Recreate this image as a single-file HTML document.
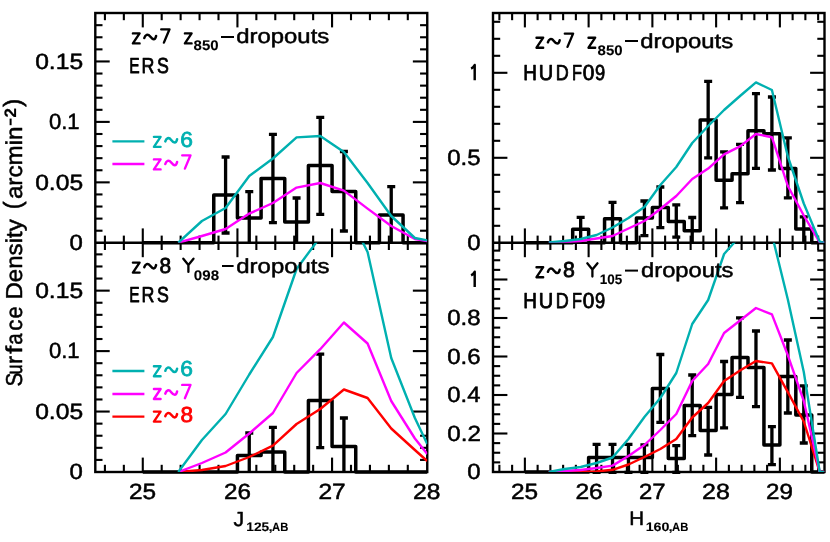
<!DOCTYPE html>
<html><head><meta charset="utf-8"><title>Surface density</title>
<style>
html,body{margin:0;padding:0;background:#fff;}
svg{display:block;will-change:transform;}
text{font-family:"Liberation Sans",sans-serif;text-rendering:geometricPrecision;}
</style></head>
<body>
<svg width="830" height="542" viewBox="0 0 830 542">
<rect x="0" y="0" width="830" height="542" fill="#fff"/>
<defs>
<clipPath id="cTL"><rect x="95.3" y="13.0" width="331.95" height="229.8"/></clipPath>
<clipPath id="cBL"><rect x="95.3" y="242.8" width="331.95" height="229.2"/></clipPath>
<clipPath id="cTR"><rect x="493.0" y="13.0" width="331.5" height="229.8"/></clipPath>
<clipPath id="cBR"><rect x="493.0" y="242.8" width="331.5" height="229.2"/></clipPath>
</defs>
<rect x="95.3" y="13.0" width="331.95" height="459.0" fill="none" stroke="#000" stroke-width="2.4"/>
<line x1="95.30" y1="242.80" x2="427.25" y2="242.80" stroke="#000" stroke-width="2.4" stroke-linecap="butt"/>
<line x1="104.92" y1="13.00" x2="104.92" y2="20.20" stroke="#000" stroke-width="2.1" stroke-linecap="butt"/>
<line x1="123.85" y1="13.00" x2="123.85" y2="20.20" stroke="#000" stroke-width="2.1" stroke-linecap="butt"/>
<line x1="142.78" y1="13.00" x2="142.78" y2="27.40" stroke="#000" stroke-width="2.1" stroke-linecap="butt"/>
<line x1="161.70" y1="13.00" x2="161.70" y2="20.20" stroke="#000" stroke-width="2.1" stroke-linecap="butt"/>
<line x1="180.63" y1="13.00" x2="180.63" y2="20.20" stroke="#000" stroke-width="2.1" stroke-linecap="butt"/>
<line x1="199.57" y1="13.00" x2="199.57" y2="20.20" stroke="#000" stroke-width="2.1" stroke-linecap="butt"/>
<line x1="218.50" y1="13.00" x2="218.50" y2="20.20" stroke="#000" stroke-width="2.1" stroke-linecap="butt"/>
<line x1="237.43" y1="13.00" x2="237.43" y2="27.40" stroke="#000" stroke-width="2.1" stroke-linecap="butt"/>
<line x1="256.35" y1="13.00" x2="256.35" y2="20.20" stroke="#000" stroke-width="2.1" stroke-linecap="butt"/>
<line x1="275.28" y1="13.00" x2="275.28" y2="20.20" stroke="#000" stroke-width="2.1" stroke-linecap="butt"/>
<line x1="294.22" y1="13.00" x2="294.22" y2="20.20" stroke="#000" stroke-width="2.1" stroke-linecap="butt"/>
<line x1="313.15" y1="13.00" x2="313.15" y2="20.20" stroke="#000" stroke-width="2.1" stroke-linecap="butt"/>
<line x1="332.07" y1="13.00" x2="332.07" y2="27.40" stroke="#000" stroke-width="2.1" stroke-linecap="butt"/>
<line x1="351.00" y1="13.00" x2="351.00" y2="20.20" stroke="#000" stroke-width="2.1" stroke-linecap="butt"/>
<line x1="369.93" y1="13.00" x2="369.93" y2="20.20" stroke="#000" stroke-width="2.1" stroke-linecap="butt"/>
<line x1="388.87" y1="13.00" x2="388.87" y2="20.20" stroke="#000" stroke-width="2.1" stroke-linecap="butt"/>
<line x1="407.80" y1="13.00" x2="407.80" y2="20.20" stroke="#000" stroke-width="2.1" stroke-linecap="butt"/>
<line x1="104.92" y1="235.60" x2="104.92" y2="250.00" stroke="#000" stroke-width="2.1" stroke-linecap="butt"/>
<line x1="123.85" y1="235.60" x2="123.85" y2="250.00" stroke="#000" stroke-width="2.1" stroke-linecap="butt"/>
<line x1="142.78" y1="228.40" x2="142.78" y2="257.20" stroke="#000" stroke-width="2.1" stroke-linecap="butt"/>
<line x1="161.70" y1="235.60" x2="161.70" y2="250.00" stroke="#000" stroke-width="2.1" stroke-linecap="butt"/>
<line x1="180.63" y1="235.60" x2="180.63" y2="250.00" stroke="#000" stroke-width="2.1" stroke-linecap="butt"/>
<line x1="199.57" y1="235.60" x2="199.57" y2="250.00" stroke="#000" stroke-width="2.1" stroke-linecap="butt"/>
<line x1="218.50" y1="235.60" x2="218.50" y2="250.00" stroke="#000" stroke-width="2.1" stroke-linecap="butt"/>
<line x1="237.43" y1="228.40" x2="237.43" y2="257.20" stroke="#000" stroke-width="2.1" stroke-linecap="butt"/>
<line x1="256.35" y1="235.60" x2="256.35" y2="250.00" stroke="#000" stroke-width="2.1" stroke-linecap="butt"/>
<line x1="275.28" y1="235.60" x2="275.28" y2="250.00" stroke="#000" stroke-width="2.1" stroke-linecap="butt"/>
<line x1="294.22" y1="235.60" x2="294.22" y2="250.00" stroke="#000" stroke-width="2.1" stroke-linecap="butt"/>
<line x1="313.15" y1="235.60" x2="313.15" y2="250.00" stroke="#000" stroke-width="2.1" stroke-linecap="butt"/>
<line x1="332.07" y1="228.40" x2="332.07" y2="257.20" stroke="#000" stroke-width="2.1" stroke-linecap="butt"/>
<line x1="351.00" y1="235.60" x2="351.00" y2="250.00" stroke="#000" stroke-width="2.1" stroke-linecap="butt"/>
<line x1="369.93" y1="235.60" x2="369.93" y2="250.00" stroke="#000" stroke-width="2.1" stroke-linecap="butt"/>
<line x1="388.87" y1="235.60" x2="388.87" y2="250.00" stroke="#000" stroke-width="2.1" stroke-linecap="butt"/>
<line x1="407.80" y1="235.60" x2="407.80" y2="250.00" stroke="#000" stroke-width="2.1" stroke-linecap="butt"/>
<line x1="104.92" y1="464.80" x2="104.92" y2="472.00" stroke="#000" stroke-width="2.1" stroke-linecap="butt"/>
<line x1="123.85" y1="464.80" x2="123.85" y2="472.00" stroke="#000" stroke-width="2.1" stroke-linecap="butt"/>
<line x1="142.78" y1="457.60" x2="142.78" y2="472.00" stroke="#000" stroke-width="2.1" stroke-linecap="butt"/>
<line x1="161.70" y1="464.80" x2="161.70" y2="472.00" stroke="#000" stroke-width="2.1" stroke-linecap="butt"/>
<line x1="180.63" y1="464.80" x2="180.63" y2="472.00" stroke="#000" stroke-width="2.1" stroke-linecap="butt"/>
<line x1="199.57" y1="464.80" x2="199.57" y2="472.00" stroke="#000" stroke-width="2.1" stroke-linecap="butt"/>
<line x1="218.50" y1="464.80" x2="218.50" y2="472.00" stroke="#000" stroke-width="2.1" stroke-linecap="butt"/>
<line x1="237.43" y1="457.60" x2="237.43" y2="472.00" stroke="#000" stroke-width="2.1" stroke-linecap="butt"/>
<line x1="256.35" y1="464.80" x2="256.35" y2="472.00" stroke="#000" stroke-width="2.1" stroke-linecap="butt"/>
<line x1="275.28" y1="464.80" x2="275.28" y2="472.00" stroke="#000" stroke-width="2.1" stroke-linecap="butt"/>
<line x1="294.22" y1="464.80" x2="294.22" y2="472.00" stroke="#000" stroke-width="2.1" stroke-linecap="butt"/>
<line x1="313.15" y1="464.80" x2="313.15" y2="472.00" stroke="#000" stroke-width="2.1" stroke-linecap="butt"/>
<line x1="332.07" y1="457.60" x2="332.07" y2="472.00" stroke="#000" stroke-width="2.1" stroke-linecap="butt"/>
<line x1="351.00" y1="464.80" x2="351.00" y2="472.00" stroke="#000" stroke-width="2.1" stroke-linecap="butt"/>
<line x1="369.93" y1="464.80" x2="369.93" y2="472.00" stroke="#000" stroke-width="2.1" stroke-linecap="butt"/>
<line x1="388.87" y1="464.80" x2="388.87" y2="472.00" stroke="#000" stroke-width="2.1" stroke-linecap="butt"/>
<line x1="407.80" y1="464.80" x2="407.80" y2="472.00" stroke="#000" stroke-width="2.1" stroke-linecap="butt"/>
<rect x="493.0" y="13.0" width="331.5" height="459.0" fill="none" stroke="#000" stroke-width="2.4"/>
<line x1="493.00" y1="242.80" x2="824.50" y2="242.80" stroke="#000" stroke-width="2.4" stroke-linecap="butt"/>
<line x1="499.38" y1="13.00" x2="499.38" y2="20.20" stroke="#000" stroke-width="2.1" stroke-linecap="butt"/>
<line x1="512.12" y1="13.00" x2="512.12" y2="20.20" stroke="#000" stroke-width="2.1" stroke-linecap="butt"/>
<line x1="524.88" y1="13.00" x2="524.88" y2="27.40" stroke="#000" stroke-width="2.1" stroke-linecap="butt"/>
<line x1="537.62" y1="13.00" x2="537.62" y2="20.20" stroke="#000" stroke-width="2.1" stroke-linecap="butt"/>
<line x1="550.37" y1="13.00" x2="550.37" y2="20.20" stroke="#000" stroke-width="2.1" stroke-linecap="butt"/>
<line x1="563.13" y1="13.00" x2="563.13" y2="20.20" stroke="#000" stroke-width="2.1" stroke-linecap="butt"/>
<line x1="575.88" y1="13.00" x2="575.88" y2="20.20" stroke="#000" stroke-width="2.1" stroke-linecap="butt"/>
<line x1="588.62" y1="13.00" x2="588.62" y2="27.40" stroke="#000" stroke-width="2.1" stroke-linecap="butt"/>
<line x1="601.38" y1="13.00" x2="601.38" y2="20.20" stroke="#000" stroke-width="2.1" stroke-linecap="butt"/>
<line x1="614.12" y1="13.00" x2="614.12" y2="20.20" stroke="#000" stroke-width="2.1" stroke-linecap="butt"/>
<line x1="626.88" y1="13.00" x2="626.88" y2="20.20" stroke="#000" stroke-width="2.1" stroke-linecap="butt"/>
<line x1="639.62" y1="13.00" x2="639.62" y2="20.20" stroke="#000" stroke-width="2.1" stroke-linecap="butt"/>
<line x1="652.38" y1="13.00" x2="652.38" y2="27.40" stroke="#000" stroke-width="2.1" stroke-linecap="butt"/>
<line x1="665.12" y1="13.00" x2="665.12" y2="20.20" stroke="#000" stroke-width="2.1" stroke-linecap="butt"/>
<line x1="677.87" y1="13.00" x2="677.87" y2="20.20" stroke="#000" stroke-width="2.1" stroke-linecap="butt"/>
<line x1="690.63" y1="13.00" x2="690.63" y2="20.20" stroke="#000" stroke-width="2.1" stroke-linecap="butt"/>
<line x1="703.38" y1="13.00" x2="703.38" y2="20.20" stroke="#000" stroke-width="2.1" stroke-linecap="butt"/>
<line x1="716.12" y1="13.00" x2="716.12" y2="27.40" stroke="#000" stroke-width="2.1" stroke-linecap="butt"/>
<line x1="728.88" y1="13.00" x2="728.88" y2="20.20" stroke="#000" stroke-width="2.1" stroke-linecap="butt"/>
<line x1="741.62" y1="13.00" x2="741.62" y2="20.20" stroke="#000" stroke-width="2.1" stroke-linecap="butt"/>
<line x1="754.38" y1="13.00" x2="754.38" y2="20.20" stroke="#000" stroke-width="2.1" stroke-linecap="butt"/>
<line x1="767.12" y1="13.00" x2="767.12" y2="20.20" stroke="#000" stroke-width="2.1" stroke-linecap="butt"/>
<line x1="779.88" y1="13.00" x2="779.88" y2="27.40" stroke="#000" stroke-width="2.1" stroke-linecap="butt"/>
<line x1="792.62" y1="13.00" x2="792.62" y2="20.20" stroke="#000" stroke-width="2.1" stroke-linecap="butt"/>
<line x1="805.37" y1="13.00" x2="805.37" y2="20.20" stroke="#000" stroke-width="2.1" stroke-linecap="butt"/>
<line x1="818.13" y1="13.00" x2="818.13" y2="20.20" stroke="#000" stroke-width="2.1" stroke-linecap="butt"/>
<line x1="499.38" y1="235.60" x2="499.38" y2="250.00" stroke="#000" stroke-width="2.1" stroke-linecap="butt"/>
<line x1="512.12" y1="235.60" x2="512.12" y2="250.00" stroke="#000" stroke-width="2.1" stroke-linecap="butt"/>
<line x1="524.88" y1="228.40" x2="524.88" y2="257.20" stroke="#000" stroke-width="2.1" stroke-linecap="butt"/>
<line x1="537.62" y1="235.60" x2="537.62" y2="250.00" stroke="#000" stroke-width="2.1" stroke-linecap="butt"/>
<line x1="550.37" y1="235.60" x2="550.37" y2="250.00" stroke="#000" stroke-width="2.1" stroke-linecap="butt"/>
<line x1="563.13" y1="235.60" x2="563.13" y2="250.00" stroke="#000" stroke-width="2.1" stroke-linecap="butt"/>
<line x1="575.88" y1="235.60" x2="575.88" y2="250.00" stroke="#000" stroke-width="2.1" stroke-linecap="butt"/>
<line x1="588.62" y1="228.40" x2="588.62" y2="257.20" stroke="#000" stroke-width="2.1" stroke-linecap="butt"/>
<line x1="601.38" y1="235.60" x2="601.38" y2="250.00" stroke="#000" stroke-width="2.1" stroke-linecap="butt"/>
<line x1="614.12" y1="235.60" x2="614.12" y2="250.00" stroke="#000" stroke-width="2.1" stroke-linecap="butt"/>
<line x1="626.88" y1="235.60" x2="626.88" y2="250.00" stroke="#000" stroke-width="2.1" stroke-linecap="butt"/>
<line x1="639.62" y1="235.60" x2="639.62" y2="250.00" stroke="#000" stroke-width="2.1" stroke-linecap="butt"/>
<line x1="652.38" y1="228.40" x2="652.38" y2="257.20" stroke="#000" stroke-width="2.1" stroke-linecap="butt"/>
<line x1="665.12" y1="235.60" x2="665.12" y2="250.00" stroke="#000" stroke-width="2.1" stroke-linecap="butt"/>
<line x1="677.87" y1="235.60" x2="677.87" y2="250.00" stroke="#000" stroke-width="2.1" stroke-linecap="butt"/>
<line x1="690.63" y1="235.60" x2="690.63" y2="250.00" stroke="#000" stroke-width="2.1" stroke-linecap="butt"/>
<line x1="703.38" y1="235.60" x2="703.38" y2="250.00" stroke="#000" stroke-width="2.1" stroke-linecap="butt"/>
<line x1="716.12" y1="228.40" x2="716.12" y2="257.20" stroke="#000" stroke-width="2.1" stroke-linecap="butt"/>
<line x1="728.88" y1="235.60" x2="728.88" y2="250.00" stroke="#000" stroke-width="2.1" stroke-linecap="butt"/>
<line x1="741.62" y1="235.60" x2="741.62" y2="250.00" stroke="#000" stroke-width="2.1" stroke-linecap="butt"/>
<line x1="754.38" y1="235.60" x2="754.38" y2="250.00" stroke="#000" stroke-width="2.1" stroke-linecap="butt"/>
<line x1="767.12" y1="235.60" x2="767.12" y2="250.00" stroke="#000" stroke-width="2.1" stroke-linecap="butt"/>
<line x1="779.88" y1="228.40" x2="779.88" y2="257.20" stroke="#000" stroke-width="2.1" stroke-linecap="butt"/>
<line x1="792.62" y1="235.60" x2="792.62" y2="250.00" stroke="#000" stroke-width="2.1" stroke-linecap="butt"/>
<line x1="805.37" y1="235.60" x2="805.37" y2="250.00" stroke="#000" stroke-width="2.1" stroke-linecap="butt"/>
<line x1="818.13" y1="235.60" x2="818.13" y2="250.00" stroke="#000" stroke-width="2.1" stroke-linecap="butt"/>
<line x1="499.38" y1="464.80" x2="499.38" y2="472.00" stroke="#000" stroke-width="2.1" stroke-linecap="butt"/>
<line x1="512.12" y1="464.80" x2="512.12" y2="472.00" stroke="#000" stroke-width="2.1" stroke-linecap="butt"/>
<line x1="524.88" y1="457.60" x2="524.88" y2="472.00" stroke="#000" stroke-width="2.1" stroke-linecap="butt"/>
<line x1="537.62" y1="464.80" x2="537.62" y2="472.00" stroke="#000" stroke-width="2.1" stroke-linecap="butt"/>
<line x1="550.37" y1="464.80" x2="550.37" y2="472.00" stroke="#000" stroke-width="2.1" stroke-linecap="butt"/>
<line x1="563.13" y1="464.80" x2="563.13" y2="472.00" stroke="#000" stroke-width="2.1" stroke-linecap="butt"/>
<line x1="575.88" y1="464.80" x2="575.88" y2="472.00" stroke="#000" stroke-width="2.1" stroke-linecap="butt"/>
<line x1="588.62" y1="457.60" x2="588.62" y2="472.00" stroke="#000" stroke-width="2.1" stroke-linecap="butt"/>
<line x1="601.38" y1="464.80" x2="601.38" y2="472.00" stroke="#000" stroke-width="2.1" stroke-linecap="butt"/>
<line x1="614.12" y1="464.80" x2="614.12" y2="472.00" stroke="#000" stroke-width="2.1" stroke-linecap="butt"/>
<line x1="626.88" y1="464.80" x2="626.88" y2="472.00" stroke="#000" stroke-width="2.1" stroke-linecap="butt"/>
<line x1="639.62" y1="464.80" x2="639.62" y2="472.00" stroke="#000" stroke-width="2.1" stroke-linecap="butt"/>
<line x1="652.38" y1="457.60" x2="652.38" y2="472.00" stroke="#000" stroke-width="2.1" stroke-linecap="butt"/>
<line x1="665.12" y1="464.80" x2="665.12" y2="472.00" stroke="#000" stroke-width="2.1" stroke-linecap="butt"/>
<line x1="677.87" y1="464.80" x2="677.87" y2="472.00" stroke="#000" stroke-width="2.1" stroke-linecap="butt"/>
<line x1="690.63" y1="464.80" x2="690.63" y2="472.00" stroke="#000" stroke-width="2.1" stroke-linecap="butt"/>
<line x1="703.38" y1="464.80" x2="703.38" y2="472.00" stroke="#000" stroke-width="2.1" stroke-linecap="butt"/>
<line x1="716.12" y1="457.60" x2="716.12" y2="472.00" stroke="#000" stroke-width="2.1" stroke-linecap="butt"/>
<line x1="728.88" y1="464.80" x2="728.88" y2="472.00" stroke="#000" stroke-width="2.1" stroke-linecap="butt"/>
<line x1="741.62" y1="464.80" x2="741.62" y2="472.00" stroke="#000" stroke-width="2.1" stroke-linecap="butt"/>
<line x1="754.38" y1="464.80" x2="754.38" y2="472.00" stroke="#000" stroke-width="2.1" stroke-linecap="butt"/>
<line x1="767.12" y1="464.80" x2="767.12" y2="472.00" stroke="#000" stroke-width="2.1" stroke-linecap="butt"/>
<line x1="779.88" y1="457.60" x2="779.88" y2="472.00" stroke="#000" stroke-width="2.1" stroke-linecap="butt"/>
<line x1="792.62" y1="464.80" x2="792.62" y2="472.00" stroke="#000" stroke-width="2.1" stroke-linecap="butt"/>
<line x1="805.37" y1="464.80" x2="805.37" y2="472.00" stroke="#000" stroke-width="2.1" stroke-linecap="butt"/>
<line x1="818.13" y1="464.80" x2="818.13" y2="472.00" stroke="#000" stroke-width="2.1" stroke-linecap="butt"/>
<line x1="95.30" y1="230.71" x2="102.50" y2="230.71" stroke="#000" stroke-width="2.1" stroke-linecap="butt"/>
<line x1="95.30" y1="218.62" x2="102.50" y2="218.62" stroke="#000" stroke-width="2.1" stroke-linecap="butt"/>
<line x1="95.30" y1="206.53" x2="102.50" y2="206.53" stroke="#000" stroke-width="2.1" stroke-linecap="butt"/>
<line x1="95.30" y1="194.44" x2="102.50" y2="194.44" stroke="#000" stroke-width="2.1" stroke-linecap="butt"/>
<line x1="95.30" y1="182.35" x2="109.70" y2="182.35" stroke="#000" stroke-width="2.1" stroke-linecap="butt"/>
<line x1="95.30" y1="170.26" x2="102.50" y2="170.26" stroke="#000" stroke-width="2.1" stroke-linecap="butt"/>
<line x1="95.30" y1="158.17" x2="102.50" y2="158.17" stroke="#000" stroke-width="2.1" stroke-linecap="butt"/>
<line x1="95.30" y1="146.08" x2="102.50" y2="146.08" stroke="#000" stroke-width="2.1" stroke-linecap="butt"/>
<line x1="95.30" y1="133.99" x2="102.50" y2="133.99" stroke="#000" stroke-width="2.1" stroke-linecap="butt"/>
<line x1="95.30" y1="121.90" x2="109.70" y2="121.90" stroke="#000" stroke-width="2.1" stroke-linecap="butt"/>
<line x1="95.30" y1="109.81" x2="102.50" y2="109.81" stroke="#000" stroke-width="2.1" stroke-linecap="butt"/>
<line x1="95.30" y1="97.72" x2="102.50" y2="97.72" stroke="#000" stroke-width="2.1" stroke-linecap="butt"/>
<line x1="95.30" y1="85.63" x2="102.50" y2="85.63" stroke="#000" stroke-width="2.1" stroke-linecap="butt"/>
<line x1="95.30" y1="73.54" x2="102.50" y2="73.54" stroke="#000" stroke-width="2.1" stroke-linecap="butt"/>
<line x1="95.30" y1="61.45" x2="109.70" y2="61.45" stroke="#000" stroke-width="2.1" stroke-linecap="butt"/>
<line x1="95.30" y1="49.36" x2="102.50" y2="49.36" stroke="#000" stroke-width="2.1" stroke-linecap="butt"/>
<line x1="95.30" y1="37.27" x2="102.50" y2="37.27" stroke="#000" stroke-width="2.1" stroke-linecap="butt"/>
<line x1="95.30" y1="25.18" x2="102.50" y2="25.18" stroke="#000" stroke-width="2.1" stroke-linecap="butt"/>
<line x1="420.05" y1="230.71" x2="427.25" y2="230.71" stroke="#000" stroke-width="2.1" stroke-linecap="butt"/>
<line x1="420.05" y1="218.62" x2="427.25" y2="218.62" stroke="#000" stroke-width="2.1" stroke-linecap="butt"/>
<line x1="420.05" y1="206.53" x2="427.25" y2="206.53" stroke="#000" stroke-width="2.1" stroke-linecap="butt"/>
<line x1="420.05" y1="194.44" x2="427.25" y2="194.44" stroke="#000" stroke-width="2.1" stroke-linecap="butt"/>
<line x1="412.85" y1="182.35" x2="427.25" y2="182.35" stroke="#000" stroke-width="2.1" stroke-linecap="butt"/>
<line x1="420.05" y1="170.26" x2="427.25" y2="170.26" stroke="#000" stroke-width="2.1" stroke-linecap="butt"/>
<line x1="420.05" y1="158.17" x2="427.25" y2="158.17" stroke="#000" stroke-width="2.1" stroke-linecap="butt"/>
<line x1="420.05" y1="146.08" x2="427.25" y2="146.08" stroke="#000" stroke-width="2.1" stroke-linecap="butt"/>
<line x1="420.05" y1="133.99" x2="427.25" y2="133.99" stroke="#000" stroke-width="2.1" stroke-linecap="butt"/>
<line x1="412.85" y1="121.90" x2="427.25" y2="121.90" stroke="#000" stroke-width="2.1" stroke-linecap="butt"/>
<line x1="420.05" y1="109.81" x2="427.25" y2="109.81" stroke="#000" stroke-width="2.1" stroke-linecap="butt"/>
<line x1="420.05" y1="97.72" x2="427.25" y2="97.72" stroke="#000" stroke-width="2.1" stroke-linecap="butt"/>
<line x1="420.05" y1="85.63" x2="427.25" y2="85.63" stroke="#000" stroke-width="2.1" stroke-linecap="butt"/>
<line x1="420.05" y1="73.54" x2="427.25" y2="73.54" stroke="#000" stroke-width="2.1" stroke-linecap="butt"/>
<line x1="412.85" y1="61.45" x2="427.25" y2="61.45" stroke="#000" stroke-width="2.1" stroke-linecap="butt"/>
<line x1="420.05" y1="49.36" x2="427.25" y2="49.36" stroke="#000" stroke-width="2.1" stroke-linecap="butt"/>
<line x1="420.05" y1="37.27" x2="427.25" y2="37.27" stroke="#000" stroke-width="2.1" stroke-linecap="butt"/>
<line x1="420.05" y1="25.18" x2="427.25" y2="25.18" stroke="#000" stroke-width="2.1" stroke-linecap="butt"/>
<line x1="95.30" y1="459.91" x2="102.50" y2="459.91" stroke="#000" stroke-width="2.1" stroke-linecap="butt"/>
<line x1="95.30" y1="447.82" x2="102.50" y2="447.82" stroke="#000" stroke-width="2.1" stroke-linecap="butt"/>
<line x1="95.30" y1="435.73" x2="102.50" y2="435.73" stroke="#000" stroke-width="2.1" stroke-linecap="butt"/>
<line x1="95.30" y1="423.64" x2="102.50" y2="423.64" stroke="#000" stroke-width="2.1" stroke-linecap="butt"/>
<line x1="95.30" y1="411.55" x2="109.70" y2="411.55" stroke="#000" stroke-width="2.1" stroke-linecap="butt"/>
<line x1="95.30" y1="399.46" x2="102.50" y2="399.46" stroke="#000" stroke-width="2.1" stroke-linecap="butt"/>
<line x1="95.30" y1="387.37" x2="102.50" y2="387.37" stroke="#000" stroke-width="2.1" stroke-linecap="butt"/>
<line x1="95.30" y1="375.28" x2="102.50" y2="375.28" stroke="#000" stroke-width="2.1" stroke-linecap="butt"/>
<line x1="95.30" y1="363.19" x2="102.50" y2="363.19" stroke="#000" stroke-width="2.1" stroke-linecap="butt"/>
<line x1="95.30" y1="351.10" x2="109.70" y2="351.10" stroke="#000" stroke-width="2.1" stroke-linecap="butt"/>
<line x1="95.30" y1="339.01" x2="102.50" y2="339.01" stroke="#000" stroke-width="2.1" stroke-linecap="butt"/>
<line x1="95.30" y1="326.92" x2="102.50" y2="326.92" stroke="#000" stroke-width="2.1" stroke-linecap="butt"/>
<line x1="95.30" y1="314.83" x2="102.50" y2="314.83" stroke="#000" stroke-width="2.1" stroke-linecap="butt"/>
<line x1="95.30" y1="302.74" x2="102.50" y2="302.74" stroke="#000" stroke-width="2.1" stroke-linecap="butt"/>
<line x1="95.30" y1="290.65" x2="109.70" y2="290.65" stroke="#000" stroke-width="2.1" stroke-linecap="butt"/>
<line x1="95.30" y1="278.56" x2="102.50" y2="278.56" stroke="#000" stroke-width="2.1" stroke-linecap="butt"/>
<line x1="95.30" y1="266.47" x2="102.50" y2="266.47" stroke="#000" stroke-width="2.1" stroke-linecap="butt"/>
<line x1="95.30" y1="254.38" x2="102.50" y2="254.38" stroke="#000" stroke-width="2.1" stroke-linecap="butt"/>
<line x1="420.05" y1="459.91" x2="427.25" y2="459.91" stroke="#000" stroke-width="2.1" stroke-linecap="butt"/>
<line x1="420.05" y1="447.82" x2="427.25" y2="447.82" stroke="#000" stroke-width="2.1" stroke-linecap="butt"/>
<line x1="420.05" y1="435.73" x2="427.25" y2="435.73" stroke="#000" stroke-width="2.1" stroke-linecap="butt"/>
<line x1="420.05" y1="423.64" x2="427.25" y2="423.64" stroke="#000" stroke-width="2.1" stroke-linecap="butt"/>
<line x1="412.85" y1="411.55" x2="427.25" y2="411.55" stroke="#000" stroke-width="2.1" stroke-linecap="butt"/>
<line x1="420.05" y1="399.46" x2="427.25" y2="399.46" stroke="#000" stroke-width="2.1" stroke-linecap="butt"/>
<line x1="420.05" y1="387.37" x2="427.25" y2="387.37" stroke="#000" stroke-width="2.1" stroke-linecap="butt"/>
<line x1="420.05" y1="375.28" x2="427.25" y2="375.28" stroke="#000" stroke-width="2.1" stroke-linecap="butt"/>
<line x1="420.05" y1="363.19" x2="427.25" y2="363.19" stroke="#000" stroke-width="2.1" stroke-linecap="butt"/>
<line x1="412.85" y1="351.10" x2="427.25" y2="351.10" stroke="#000" stroke-width="2.1" stroke-linecap="butt"/>
<line x1="420.05" y1="339.01" x2="427.25" y2="339.01" stroke="#000" stroke-width="2.1" stroke-linecap="butt"/>
<line x1="420.05" y1="326.92" x2="427.25" y2="326.92" stroke="#000" stroke-width="2.1" stroke-linecap="butt"/>
<line x1="420.05" y1="314.83" x2="427.25" y2="314.83" stroke="#000" stroke-width="2.1" stroke-linecap="butt"/>
<line x1="420.05" y1="302.74" x2="427.25" y2="302.74" stroke="#000" stroke-width="2.1" stroke-linecap="butt"/>
<line x1="412.85" y1="290.65" x2="427.25" y2="290.65" stroke="#000" stroke-width="2.1" stroke-linecap="butt"/>
<line x1="420.05" y1="278.56" x2="427.25" y2="278.56" stroke="#000" stroke-width="2.1" stroke-linecap="butt"/>
<line x1="420.05" y1="266.47" x2="427.25" y2="266.47" stroke="#000" stroke-width="2.1" stroke-linecap="butt"/>
<line x1="420.05" y1="254.38" x2="427.25" y2="254.38" stroke="#000" stroke-width="2.1" stroke-linecap="butt"/>
<line x1="493.00" y1="225.80" x2="500.20" y2="225.80" stroke="#000" stroke-width="2.1" stroke-linecap="butt"/>
<line x1="493.00" y1="208.80" x2="500.20" y2="208.80" stroke="#000" stroke-width="2.1" stroke-linecap="butt"/>
<line x1="493.00" y1="191.80" x2="500.20" y2="191.80" stroke="#000" stroke-width="2.1" stroke-linecap="butt"/>
<line x1="493.00" y1="174.80" x2="500.20" y2="174.80" stroke="#000" stroke-width="2.1" stroke-linecap="butt"/>
<line x1="493.00" y1="157.80" x2="507.40" y2="157.80" stroke="#000" stroke-width="2.1" stroke-linecap="butt"/>
<line x1="493.00" y1="140.80" x2="500.20" y2="140.80" stroke="#000" stroke-width="2.1" stroke-linecap="butt"/>
<line x1="493.00" y1="123.80" x2="500.20" y2="123.80" stroke="#000" stroke-width="2.1" stroke-linecap="butt"/>
<line x1="493.00" y1="106.80" x2="500.20" y2="106.80" stroke="#000" stroke-width="2.1" stroke-linecap="butt"/>
<line x1="493.00" y1="89.80" x2="500.20" y2="89.80" stroke="#000" stroke-width="2.1" stroke-linecap="butt"/>
<line x1="493.00" y1="72.80" x2="507.40" y2="72.80" stroke="#000" stroke-width="2.1" stroke-linecap="butt"/>
<line x1="493.00" y1="55.80" x2="500.20" y2="55.80" stroke="#000" stroke-width="2.1" stroke-linecap="butt"/>
<line x1="493.00" y1="38.80" x2="500.20" y2="38.80" stroke="#000" stroke-width="2.1" stroke-linecap="butt"/>
<line x1="493.00" y1="21.80" x2="500.20" y2="21.80" stroke="#000" stroke-width="2.1" stroke-linecap="butt"/>
<line x1="817.30" y1="225.80" x2="824.50" y2="225.80" stroke="#000" stroke-width="2.1" stroke-linecap="butt"/>
<line x1="817.30" y1="208.80" x2="824.50" y2="208.80" stroke="#000" stroke-width="2.1" stroke-linecap="butt"/>
<line x1="817.30" y1="191.80" x2="824.50" y2="191.80" stroke="#000" stroke-width="2.1" stroke-linecap="butt"/>
<line x1="817.30" y1="174.80" x2="824.50" y2="174.80" stroke="#000" stroke-width="2.1" stroke-linecap="butt"/>
<line x1="810.10" y1="157.80" x2="824.50" y2="157.80" stroke="#000" stroke-width="2.1" stroke-linecap="butt"/>
<line x1="817.30" y1="140.80" x2="824.50" y2="140.80" stroke="#000" stroke-width="2.1" stroke-linecap="butt"/>
<line x1="817.30" y1="123.80" x2="824.50" y2="123.80" stroke="#000" stroke-width="2.1" stroke-linecap="butt"/>
<line x1="817.30" y1="106.80" x2="824.50" y2="106.80" stroke="#000" stroke-width="2.1" stroke-linecap="butt"/>
<line x1="817.30" y1="89.80" x2="824.50" y2="89.80" stroke="#000" stroke-width="2.1" stroke-linecap="butt"/>
<line x1="810.10" y1="72.80" x2="824.50" y2="72.80" stroke="#000" stroke-width="2.1" stroke-linecap="butt"/>
<line x1="817.30" y1="55.80" x2="824.50" y2="55.80" stroke="#000" stroke-width="2.1" stroke-linecap="butt"/>
<line x1="817.30" y1="38.80" x2="824.50" y2="38.80" stroke="#000" stroke-width="2.1" stroke-linecap="butt"/>
<line x1="817.30" y1="21.80" x2="824.50" y2="21.80" stroke="#000" stroke-width="2.1" stroke-linecap="butt"/>
<line x1="493.00" y1="462.38" x2="500.20" y2="462.38" stroke="#000" stroke-width="2.1" stroke-linecap="butt"/>
<line x1="493.00" y1="452.75" x2="500.20" y2="452.75" stroke="#000" stroke-width="2.1" stroke-linecap="butt"/>
<line x1="493.00" y1="443.12" x2="500.20" y2="443.12" stroke="#000" stroke-width="2.1" stroke-linecap="butt"/>
<line x1="493.00" y1="433.50" x2="507.40" y2="433.50" stroke="#000" stroke-width="2.1" stroke-linecap="butt"/>
<line x1="493.00" y1="423.88" x2="500.20" y2="423.88" stroke="#000" stroke-width="2.1" stroke-linecap="butt"/>
<line x1="493.00" y1="414.25" x2="500.20" y2="414.25" stroke="#000" stroke-width="2.1" stroke-linecap="butt"/>
<line x1="493.00" y1="404.62" x2="500.20" y2="404.62" stroke="#000" stroke-width="2.1" stroke-linecap="butt"/>
<line x1="493.00" y1="395.00" x2="507.40" y2="395.00" stroke="#000" stroke-width="2.1" stroke-linecap="butt"/>
<line x1="493.00" y1="385.38" x2="500.20" y2="385.38" stroke="#000" stroke-width="2.1" stroke-linecap="butt"/>
<line x1="493.00" y1="375.75" x2="500.20" y2="375.75" stroke="#000" stroke-width="2.1" stroke-linecap="butt"/>
<line x1="493.00" y1="366.12" x2="500.20" y2="366.12" stroke="#000" stroke-width="2.1" stroke-linecap="butt"/>
<line x1="493.00" y1="356.50" x2="507.40" y2="356.50" stroke="#000" stroke-width="2.1" stroke-linecap="butt"/>
<line x1="493.00" y1="346.88" x2="500.20" y2="346.88" stroke="#000" stroke-width="2.1" stroke-linecap="butt"/>
<line x1="493.00" y1="337.25" x2="500.20" y2="337.25" stroke="#000" stroke-width="2.1" stroke-linecap="butt"/>
<line x1="493.00" y1="327.62" x2="500.20" y2="327.62" stroke="#000" stroke-width="2.1" stroke-linecap="butt"/>
<line x1="493.00" y1="318.00" x2="507.40" y2="318.00" stroke="#000" stroke-width="2.1" stroke-linecap="butt"/>
<line x1="493.00" y1="308.38" x2="500.20" y2="308.38" stroke="#000" stroke-width="2.1" stroke-linecap="butt"/>
<line x1="493.00" y1="298.75" x2="500.20" y2="298.75" stroke="#000" stroke-width="2.1" stroke-linecap="butt"/>
<line x1="493.00" y1="289.12" x2="500.20" y2="289.12" stroke="#000" stroke-width="2.1" stroke-linecap="butt"/>
<line x1="493.00" y1="279.50" x2="507.40" y2="279.50" stroke="#000" stroke-width="2.1" stroke-linecap="butt"/>
<line x1="493.00" y1="269.88" x2="500.20" y2="269.88" stroke="#000" stroke-width="2.1" stroke-linecap="butt"/>
<line x1="493.00" y1="260.25" x2="500.20" y2="260.25" stroke="#000" stroke-width="2.1" stroke-linecap="butt"/>
<line x1="493.00" y1="250.62" x2="500.20" y2="250.62" stroke="#000" stroke-width="2.1" stroke-linecap="butt"/>
<line x1="817.30" y1="462.38" x2="824.50" y2="462.38" stroke="#000" stroke-width="2.1" stroke-linecap="butt"/>
<line x1="817.30" y1="452.75" x2="824.50" y2="452.75" stroke="#000" stroke-width="2.1" stroke-linecap="butt"/>
<line x1="817.30" y1="443.12" x2="824.50" y2="443.12" stroke="#000" stroke-width="2.1" stroke-linecap="butt"/>
<line x1="810.10" y1="433.50" x2="824.50" y2="433.50" stroke="#000" stroke-width="2.1" stroke-linecap="butt"/>
<line x1="817.30" y1="423.88" x2="824.50" y2="423.88" stroke="#000" stroke-width="2.1" stroke-linecap="butt"/>
<line x1="817.30" y1="414.25" x2="824.50" y2="414.25" stroke="#000" stroke-width="2.1" stroke-linecap="butt"/>
<line x1="817.30" y1="404.62" x2="824.50" y2="404.62" stroke="#000" stroke-width="2.1" stroke-linecap="butt"/>
<line x1="810.10" y1="395.00" x2="824.50" y2="395.00" stroke="#000" stroke-width="2.1" stroke-linecap="butt"/>
<line x1="817.30" y1="385.38" x2="824.50" y2="385.38" stroke="#000" stroke-width="2.1" stroke-linecap="butt"/>
<line x1="817.30" y1="375.75" x2="824.50" y2="375.75" stroke="#000" stroke-width="2.1" stroke-linecap="butt"/>
<line x1="817.30" y1="366.12" x2="824.50" y2="366.12" stroke="#000" stroke-width="2.1" stroke-linecap="butt"/>
<line x1="810.10" y1="356.50" x2="824.50" y2="356.50" stroke="#000" stroke-width="2.1" stroke-linecap="butt"/>
<line x1="817.30" y1="346.88" x2="824.50" y2="346.88" stroke="#000" stroke-width="2.1" stroke-linecap="butt"/>
<line x1="817.30" y1="337.25" x2="824.50" y2="337.25" stroke="#000" stroke-width="2.1" stroke-linecap="butt"/>
<line x1="817.30" y1="327.62" x2="824.50" y2="327.62" stroke="#000" stroke-width="2.1" stroke-linecap="butt"/>
<line x1="810.10" y1="318.00" x2="824.50" y2="318.00" stroke="#000" stroke-width="2.1" stroke-linecap="butt"/>
<line x1="817.30" y1="308.38" x2="824.50" y2="308.38" stroke="#000" stroke-width="2.1" stroke-linecap="butt"/>
<line x1="817.30" y1="298.75" x2="824.50" y2="298.75" stroke="#000" stroke-width="2.1" stroke-linecap="butt"/>
<line x1="817.30" y1="289.12" x2="824.50" y2="289.12" stroke="#000" stroke-width="2.1" stroke-linecap="butt"/>
<line x1="810.10" y1="279.50" x2="824.50" y2="279.50" stroke="#000" stroke-width="2.1" stroke-linecap="butt"/>
<line x1="817.30" y1="269.88" x2="824.50" y2="269.88" stroke="#000" stroke-width="2.1" stroke-linecap="butt"/>
<line x1="817.30" y1="260.25" x2="824.50" y2="260.25" stroke="#000" stroke-width="2.1" stroke-linecap="butt"/>
<line x1="817.30" y1="250.62" x2="824.50" y2="250.62" stroke="#000" stroke-width="2.1" stroke-linecap="butt"/>
<path d="M142.78,242.80 L213.76,242.80 L213.76,195.00 L237.43,195.00 L237.43,218.00 L261.09,218.00 L261.09,178.40 L284.75,178.40 L284.75,222.00 L308.41,222.00 L308.41,165.50 L332.07,165.50 L332.07,191.50 L355.74,191.50 L355.74,242.80 L379.40,242.80 L379.40,215.00 L403.06,215.00 L403.06,242.80 L427.25,242.80" fill="none" stroke="#000" stroke-width="3.5" stroke-linejoin="round" stroke-linecap="butt"/>
<path d="M225.59,157.00 L225.59,233.00 M221.59,157.00 L229.59,157.00 M221.59,233.00 L229.59,233.00" fill="none" stroke="#000" stroke-width="3.3" stroke-linejoin="miter" stroke-linecap="butt"/>
<path d="M249.26,191.60 L249.26,242.80 M245.26,191.60 L253.26,191.60" fill="none" stroke="#000" stroke-width="3.3" stroke-linejoin="miter" stroke-linecap="butt"/>
<path d="M272.92,134.40 L272.92,222.60 M268.92,134.40 L276.92,134.40 M268.92,222.60 L276.92,222.60" fill="none" stroke="#000" stroke-width="3.3" stroke-linejoin="miter" stroke-linecap="butt"/>
<path d="M296.58,198.00 L296.58,242.80 M292.58,198.00 L300.58,198.00" fill="none" stroke="#000" stroke-width="3.3" stroke-linejoin="miter" stroke-linecap="butt"/>
<path d="M320.24,117.40 L320.24,214.40 M316.24,117.40 L324.24,117.40 M316.24,214.40 L324.24,214.40" fill="none" stroke="#000" stroke-width="3.3" stroke-linejoin="miter" stroke-linecap="butt"/>
<path d="M343.91,151.50 L343.91,231.00 M339.91,151.50 L347.91,151.50 M339.91,231.00 L347.91,231.00" fill="none" stroke="#000" stroke-width="3.3" stroke-linejoin="miter" stroke-linecap="butt"/>
<path d="M391.23,186.60 L391.23,242.80 M387.23,186.60 L395.23,186.60" fill="none" stroke="#000" stroke-width="3.3" stroke-linejoin="miter" stroke-linecap="butt"/>
<path d="M178.27,242.70 L201.93,236.00 L225.59,229.00 L249.26,213.60 L272.92,203.00 L296.58,187.60 L320.24,183.00 L343.91,190.60 L367.57,208.60 L391.23,226.00 L414.89,239.00 L427.25,241.00" fill="none" stroke="#FF00FF" stroke-width="2.4" stroke-linejoin="round" stroke-linecap="butt" clip-path="url(#cTL)"/>
<path d="M178.27,242.70 L201.93,221.00 L225.59,208.00 L249.26,176.00 L272.92,158.50 L296.58,137.40 L320.24,136.00 L343.91,152.00 L367.57,183.00 L391.23,216.00 L414.89,238.00 L427.25,240.40" fill="none" stroke="#00B0B0" stroke-width="2.4" stroke-linejoin="round" stroke-linecap="butt" clip-path="url(#cTL)"/>
<path d="M142.78,472.00 L237.43,472.00 L237.43,455.60 L261.09,455.60 L261.09,452.00 L284.75,452.00 L284.75,472.00 L308.41,472.00 L308.41,400.60 L332.07,400.60 L332.07,446.50 L355.74,446.50 L355.74,472.00 L427.25,472.00" fill="none" stroke="#000" stroke-width="3.5" stroke-linejoin="round" stroke-linecap="butt"/>
<path d="M249.26,433.00 L249.26,472.00 M245.26,433.00 L253.26,433.00" fill="none" stroke="#000" stroke-width="3.3" stroke-linejoin="miter" stroke-linecap="butt"/>
<path d="M272.92,427.40 L272.92,472.00 M268.92,427.40 L276.92,427.40" fill="none" stroke="#000" stroke-width="3.3" stroke-linejoin="miter" stroke-linecap="butt"/>
<path d="M320.24,354.20 L320.24,447.60 M316.24,354.20 L324.24,354.20 M316.24,447.60 L324.24,447.60" fill="none" stroke="#000" stroke-width="3.3" stroke-linejoin="miter" stroke-linecap="butt"/>
<path d="M343.91,418.00 L343.91,472.00 M339.91,418.00 L347.91,418.00" fill="none" stroke="#000" stroke-width="3.3" stroke-linejoin="miter" stroke-linecap="butt"/>
<path d="M178.27,472.00 L201.93,470.00 L225.59,466.00 L249.26,457.00 L272.92,445.60 L296.58,424.00 L320.24,409.00 L343.91,389.50 L367.57,398.00 L391.23,428.50 L414.89,450.00 L427.25,461.00" fill="none" stroke="#FF0000" stroke-width="2.4" stroke-linejoin="round" stroke-linecap="butt" clip-path="url(#cBL)"/>
<path d="M178.27,472.00 L201.93,463.00 L225.59,452.50 L249.26,433.50 L272.92,413.00 L296.58,373.00 L320.24,349.20 L343.91,322.50 L367.57,343.50 L391.23,401.00 L414.89,438.50 L427.25,454.00" fill="none" stroke="#FF00FF" stroke-width="2.4" stroke-linejoin="round" stroke-linecap="butt" clip-path="url(#cBL)"/>
<path d="M178.27,472.00 L201.93,440.00 L225.59,414.00 L249.26,374.50 L272.92,337.00 L296.58,269.00 L320.24,237.00 L343.91,204.60 L367.57,252.00 L391.23,358.00 L414.89,418.00 L427.25,444.00" fill="none" stroke="#00B0B0" stroke-width="2.4" stroke-linejoin="round" stroke-linecap="butt" clip-path="url(#cBL)"/>
<path d="M524.88,242.80 L572.69,242.80 L572.69,229.30 L588.62,229.30 L588.62,242.80 L604.56,242.80 L604.56,218.70 L620.50,218.70 L620.50,242.80 L636.44,242.80 L636.44,218.00 L652.38,218.00 L652.38,207.40 L668.31,207.40 L668.31,221.50 L684.25,221.50 L684.25,230.80 L700.19,230.80 L700.19,120.00 L716.12,120.00 L716.12,180.20 L732.06,180.20 L732.06,173.80 L748.00,173.80 L748.00,130.80 L763.94,130.80 L763.94,133.70 L779.88,133.70 L779.88,168.40 L795.81,168.40 L795.81,229.00 L811.75,229.00 L811.75,242.80 L824.50,242.80" fill="none" stroke="#000" stroke-width="3.5" stroke-linejoin="round" stroke-linecap="butt"/>
<path d="M580.66,217.30 L580.66,242.80 M576.66,217.30 L584.66,217.30" fill="none" stroke="#000" stroke-width="3.3" stroke-linejoin="miter" stroke-linecap="butt"/>
<path d="M612.53,202.30 L612.53,242.80 M608.53,202.30 L616.53,202.30" fill="none" stroke="#000" stroke-width="3.3" stroke-linejoin="miter" stroke-linecap="butt"/>
<path d="M644.41,201.00 L644.41,235.60 M640.41,201.00 L648.41,201.00 M640.41,235.60 L648.41,235.60" fill="none" stroke="#000" stroke-width="3.3" stroke-linejoin="miter" stroke-linecap="butt"/>
<path d="M660.34,187.00 L660.34,227.60 M656.34,187.00 L664.34,187.00 M656.34,227.60 L664.34,227.60" fill="none" stroke="#000" stroke-width="3.3" stroke-linejoin="miter" stroke-linecap="butt"/>
<path d="M676.28,204.80 L676.28,237.20 M672.28,204.80 L680.28,204.80 M672.28,237.20 L680.28,237.20" fill="none" stroke="#000" stroke-width="3.3" stroke-linejoin="miter" stroke-linecap="butt"/>
<path d="M692.22,217.50 L692.22,242.80 M688.22,217.50 L696.22,217.50" fill="none" stroke="#000" stroke-width="3.3" stroke-linejoin="miter" stroke-linecap="butt"/>
<path d="M708.16,81.40 L708.16,157.80 M704.16,81.40 L712.16,81.40 M704.16,157.80 L712.16,157.80" fill="none" stroke="#000" stroke-width="3.3" stroke-linejoin="miter" stroke-linecap="butt"/>
<path d="M724.09,151.90 L724.09,207.80 M720.09,151.90 L728.09,151.90 M720.09,207.80 L728.09,207.80" fill="none" stroke="#000" stroke-width="3.3" stroke-linejoin="miter" stroke-linecap="butt"/>
<path d="M740.03,144.30 L740.03,202.60 M736.03,144.30 L744.03,144.30 M736.03,202.60 L744.03,202.60" fill="none" stroke="#000" stroke-width="3.3" stroke-linejoin="miter" stroke-linecap="butt"/>
<path d="M755.97,93.60 L755.97,168.40 M751.97,93.60 L759.97,93.60 M751.97,168.40 L759.97,168.40" fill="none" stroke="#000" stroke-width="3.3" stroke-linejoin="miter" stroke-linecap="butt"/>
<path d="M771.91,97.00 L771.91,170.00 M767.91,97.00 L775.91,97.00 M767.91,170.00 L775.91,170.00" fill="none" stroke="#000" stroke-width="3.3" stroke-linejoin="miter" stroke-linecap="butt"/>
<path d="M787.84,137.80 L787.84,197.90 M783.84,137.80 L791.84,137.80 M783.84,197.90 L791.84,197.90" fill="none" stroke="#000" stroke-width="3.3" stroke-linejoin="miter" stroke-linecap="butt"/>
<path d="M803.78,216.80 L803.78,242.80 M799.78,216.80 L807.78,216.80" fill="none" stroke="#000" stroke-width="3.3" stroke-linejoin="miter" stroke-linecap="butt"/>
<path d="M548.78,242.70 L564.72,242.20 L580.66,241.00 L596.59,238.50 L612.53,236.00 L628.47,228.50 L644.41,221.00 L660.34,209.00 L676.28,196.00 L692.22,179.00 L708.16,168.60 L724.09,154.30 L740.03,146.40 L755.97,134.00 L771.91,137.20 L787.84,186.00 L803.78,215.50 L819.72,242.30 L824.50,242.70" fill="none" stroke="#FF00FF" stroke-width="2.4" stroke-linejoin="round" stroke-linecap="butt" clip-path="url(#cTR)"/>
<path d="M548.78,242.50 L564.72,241.00 L580.66,239.00 L596.59,235.00 L612.53,227.50 L628.47,218.00 L644.41,207.00 L660.34,185.00 L676.28,167.00 L692.22,143.00 L708.16,126.00 L724.09,110.00 L740.03,96.00 L755.97,82.40 L771.91,90.00 L787.84,156.50 L803.78,203.50 L819.72,241.60 L824.50,242.80" fill="none" stroke="#00B0B0" stroke-width="2.4" stroke-linejoin="round" stroke-linecap="butt" clip-path="url(#cTR)"/>
<path d="M524.88,472.00 L588.62,472.00 L588.62,457.60 L652.38,457.60 L652.38,388.40 L668.31,388.40 L668.31,458.60 L684.25,458.60 L684.25,405.50 L700.19,405.50 L700.19,430.50 L716.12,430.50 L716.12,394.50 L732.06,394.50 L732.06,357.50 L748.00,357.50 L748.00,367.50 L763.94,367.50 L763.94,444.90 L779.88,444.90 L779.88,376.40 L795.81,376.40 L795.81,415.10 L811.75,415.10 L811.75,472.00 L824.50,472.00" fill="none" stroke="#000" stroke-width="3.5" stroke-linejoin="round" stroke-linecap="butt"/>
<path d="M596.59,444.40 L596.59,472.40 M592.59,444.40 L600.59,444.40 M592.59,472.40 L600.59,472.40" fill="none" stroke="#000" stroke-width="3.3" stroke-linejoin="miter" stroke-linecap="butt"/>
<path d="M612.53,444.40 L612.53,472.40 M608.53,444.40 L616.53,444.40 M608.53,472.40 L616.53,472.40" fill="none" stroke="#000" stroke-width="3.3" stroke-linejoin="miter" stroke-linecap="butt"/>
<path d="M628.47,444.40 L628.47,472.40 M624.47,444.40 L632.47,444.40 M624.47,472.40 L632.47,472.40" fill="none" stroke="#000" stroke-width="3.3" stroke-linejoin="miter" stroke-linecap="butt"/>
<path d="M644.41,444.80 L644.41,472.40 M640.41,444.80 L648.41,444.80 M640.41,472.40 L648.41,472.40" fill="none" stroke="#000" stroke-width="3.3" stroke-linejoin="miter" stroke-linecap="butt"/>
<path d="M660.34,354.50 L660.34,422.40 M656.34,354.50 L664.34,354.50 M656.34,422.40 L664.34,422.40" fill="none" stroke="#000" stroke-width="3.3" stroke-linejoin="miter" stroke-linecap="butt"/>
<path d="M676.28,445.60 L676.28,472.40 M672.28,445.60 L680.28,445.60 M672.28,472.40 L680.28,472.40" fill="none" stroke="#000" stroke-width="3.3" stroke-linejoin="miter" stroke-linecap="butt"/>
<path d="M692.22,375.00 L692.22,435.60 M688.22,375.00 L696.22,375.00 M688.22,435.60 L696.22,435.60" fill="none" stroke="#000" stroke-width="3.3" stroke-linejoin="miter" stroke-linecap="butt"/>
<path d="M708.16,407.30 L708.16,455.00 M704.16,407.30 L712.16,407.30 M704.16,455.00 L712.16,455.00" fill="none" stroke="#000" stroke-width="3.3" stroke-linejoin="miter" stroke-linecap="butt"/>
<path d="M724.09,361.50 L724.09,427.80 M720.09,361.50 L728.09,361.50 M720.09,427.80 L728.09,427.80" fill="none" stroke="#000" stroke-width="3.3" stroke-linejoin="miter" stroke-linecap="butt"/>
<path d="M740.03,317.80 L740.03,397.30 M736.03,317.80 L744.03,317.80 M736.03,397.30 L744.03,397.30" fill="none" stroke="#000" stroke-width="3.3" stroke-linejoin="miter" stroke-linecap="butt"/>
<path d="M755.97,331.00 L755.97,406.70 M751.97,331.00 L759.97,331.00 M751.97,406.70 L759.97,406.70" fill="none" stroke="#000" stroke-width="3.3" stroke-linejoin="miter" stroke-linecap="butt"/>
<path d="M771.91,426.60 L771.91,464.70 M767.91,426.60 L775.91,426.60 M767.91,464.70 L775.91,464.70" fill="none" stroke="#000" stroke-width="3.3" stroke-linejoin="miter" stroke-linecap="butt"/>
<path d="M787.84,340.00 L787.84,413.00 M783.84,340.00 L791.84,340.00 M783.84,413.00 L791.84,413.00" fill="none" stroke="#000" stroke-width="3.3" stroke-linejoin="miter" stroke-linecap="butt"/>
<path d="M803.78,385.80 L803.78,443.00 M799.78,385.80 L807.78,385.80 M799.78,443.00 L807.78,443.00" fill="none" stroke="#000" stroke-width="3.3" stroke-linejoin="miter" stroke-linecap="butt"/>
<path d="M548.78,472.00 L564.72,472.00 L580.66,471.80 L596.59,471.40 L612.53,469.80 L628.47,464.50 L644.41,457.00 L660.34,449.00 L676.28,439.00 L692.22,417.50 L708.16,403.00 L724.09,381.00 L740.03,370.50 L755.97,361.00 L771.91,363.40 L787.84,392.20 L803.78,421.50 L819.72,472.00 L824.50,472.00" fill="none" stroke="#FF0000" stroke-width="2.4" stroke-linejoin="round" stroke-linecap="butt" clip-path="url(#cBR)"/>
<path d="M548.78,472.00 L564.72,471.00 L580.66,470.00 L596.59,468.00 L612.53,465.60 L628.47,456.00 L644.41,445.00 L660.34,430.00 L676.28,414.00 L692.22,381.00 L708.16,364.00 L724.09,333.00 L740.03,320.50 L755.97,308.00 L771.91,314.40 L787.84,355.30 L803.78,401.00 L819.72,472.00 L824.50,472.00" fill="none" stroke="#FF00FF" stroke-width="2.4" stroke-linejoin="round" stroke-linecap="butt" clip-path="url(#cBR)"/>
<path d="M548.78,472.00 L564.72,469.00 L580.66,467.00 L596.59,463.00 L612.53,457.50 L628.47,439.00 L644.41,417.00 L660.34,398.00 L676.28,373.00 L692.22,324.00 L708.16,300.00 L724.09,254.00 L740.03,236.00 L755.97,225.00 L771.91,234.50 L787.84,299.50 L803.78,372.00 L819.72,472.00 L824.50,472.00" fill="none" stroke="#00B0B0" stroke-width="2.4" stroke-linejoin="round" stroke-linecap="butt" clip-path="url(#cBR)"/>
<path d="M132.90,33.40 L139.60,33.40 L132.90,43.40 L139.60,43.40" fill="none" stroke="#000" stroke-width="2.35" stroke-linejoin="round" stroke-linecap="round"/>
<path d="M144.30,38.00 C145.20,34.80 147.70,33.30 150.20,36.60 S155.10,40.50 156.10,35.90" fill="none" stroke="#000" stroke-width="2.5" stroke-linejoin="round" stroke-linecap="round"/>
<path d="M161.20,29.30 L169.50,29.30 L163.90,42.60" fill="none" stroke="#000" stroke-width="2.35" stroke-linejoin="round" stroke-linecap="round"/>
<path d="M184.90,33.40 L191.60,33.40 L184.90,43.40 L191.60,43.40" fill="none" stroke="#000" stroke-width="2.35" stroke-linejoin="round" stroke-linecap="round"/>
<text transform="translate(193.60,50.10) scale(1.0758,1)" font-size="13.93" font-weight="bold" fill="#000" stroke="#000" stroke-width="0.1" stroke-linejoin="round">850</text>
<line x1="221.00" y1="37.00" x2="234.00" y2="37.00" stroke="#000" stroke-width="2" stroke-linecap="butt"/>
<text transform="translate(236.29,43.30) scale(1.1648,1)" font-size="20.50" fill="#000" stroke="#000" stroke-width="0.5" stroke-linejoin="round">dropouts</text>
<text transform="translate(129.35,73.00) scale(0.7171,1)" font-size="21.75" fill="#000" stroke="#000" stroke-width="0.8" stroke-linejoin="round">E</text>
<text transform="translate(141.57,73.00) scale(0.8191,1)" font-size="21.75" fill="#000" stroke="#000" stroke-width="0.8" stroke-linejoin="round">R</text>
<text transform="translate(157.00,73.00) scale(0.8156,1)" font-size="21.75" fill="#000" stroke="#000" stroke-width="0.8" stroke-linejoin="round">S</text>
<line x1="112.40" y1="141.40" x2="144.40" y2="141.40" stroke="#00B0B0" stroke-width="2.4" stroke-linecap="butt"/>
<line x1="112.40" y1="164.00" x2="144.40" y2="164.00" stroke="#FF00FF" stroke-width="2.4" stroke-linecap="butt"/>
<path d="M153.90,136.80 L160.60,136.80 L153.90,146.80 L160.60,146.80" fill="none" stroke="#00B0B0" stroke-width="2.35" stroke-linejoin="round" stroke-linecap="round"/>
<path d="M165.30,141.40 C166.20,138.20 168.70,136.70 171.20,140.00 S176.10,143.90 177.10,139.30" fill="none" stroke="#00B0B0" stroke-width="2.5" stroke-linejoin="round" stroke-linecap="round"/>
<text transform="translate(180.26,146.90) scale(1.0481,1)" font-size="21.75" fill="#00B0B0" stroke="#00B0B0" stroke-width="0.8" stroke-linejoin="round">6</text>
<path d="M153.90,159.40 L160.60,159.40 L153.90,169.40 L160.60,169.40" fill="none" stroke="#FF00FF" stroke-width="2.35" stroke-linejoin="round" stroke-linecap="round"/>
<path d="M165.30,164.00 C166.20,160.80 168.70,159.30 171.20,162.60 S176.10,166.50 177.10,161.90" fill="none" stroke="#FF00FF" stroke-width="2.5" stroke-linejoin="round" stroke-linecap="round"/>
<path d="M182.20,155.30 L190.50,155.30 L184.90,168.60" fill="none" stroke="#FF00FF" stroke-width="2.35" stroke-linejoin="round" stroke-linecap="round"/>
<path d="M132.90,262.60 L139.60,262.60 L132.90,272.60 L139.60,272.60" fill="none" stroke="#000" stroke-width="2.35" stroke-linejoin="round" stroke-linecap="round"/>
<path d="M144.30,267.20 C145.20,264.00 147.70,262.50 150.20,265.80 S155.10,269.70 156.10,265.10" fill="none" stroke="#000" stroke-width="2.5" stroke-linejoin="round" stroke-linecap="round"/>
<text transform="translate(159.46,272.70) scale(0.9587,1)" font-size="21.75" fill="#000" stroke="#000" stroke-width="0.8" stroke-linejoin="round">8</text>
<path d="M183.30,258.70 L188.40,264.90 L193.50,258.70 M188.40,264.90 L188.40,271.90" fill="none" stroke="#000" stroke-width="2.3" stroke-linejoin="round" stroke-linecap="round"/>
<text transform="translate(193.85,280.10) scale(1.0848,1)" font-size="13.93" font-weight="bold" fill="#000" stroke="#000" stroke-width="0.1" stroke-linejoin="round">098</text>
<line x1="222.00" y1="266.00" x2="233.60" y2="266.00" stroke="#000" stroke-width="2" stroke-linecap="butt"/>
<text transform="translate(236.29,272.50) scale(1.1674,1)" font-size="20.50" fill="#000" stroke="#000" stroke-width="0.5" stroke-linejoin="round">dropouts</text>
<text transform="translate(129.35,302.30) scale(0.7171,1)" font-size="21.75" fill="#000" stroke="#000" stroke-width="0.8" stroke-linejoin="round">E</text>
<text transform="translate(141.57,302.30) scale(0.8191,1)" font-size="21.75" fill="#000" stroke="#000" stroke-width="0.8" stroke-linejoin="round">R</text>
<text transform="translate(157.00,302.30) scale(0.8156,1)" font-size="21.75" fill="#000" stroke="#000" stroke-width="0.8" stroke-linejoin="round">S</text>
<line x1="112.40" y1="371.00" x2="144.40" y2="371.00" stroke="#00B0B0" stroke-width="2.4" stroke-linecap="butt"/>
<line x1="112.40" y1="394.00" x2="144.40" y2="394.00" stroke="#FF00FF" stroke-width="2.4" stroke-linecap="butt"/>
<line x1="112.40" y1="416.60" x2="144.40" y2="416.60" stroke="#FF0000" stroke-width="2.4" stroke-linecap="butt"/>
<path d="M153.90,366.20 L160.60,366.20 L153.90,376.20 L160.60,376.20" fill="none" stroke="#00B0B0" stroke-width="2.35" stroke-linejoin="round" stroke-linecap="round"/>
<path d="M165.30,370.80 C166.20,367.60 168.70,366.10 171.20,369.40 S176.10,373.30 177.10,368.70" fill="none" stroke="#00B0B0" stroke-width="2.5" stroke-linejoin="round" stroke-linecap="round"/>
<text transform="translate(180.26,376.30) scale(1.0481,1)" font-size="21.75" fill="#00B0B0" stroke="#00B0B0" stroke-width="0.8" stroke-linejoin="round">6</text>
<path d="M153.90,389.00 L160.60,389.00 L153.90,399.00 L160.60,399.00" fill="none" stroke="#FF00FF" stroke-width="2.35" stroke-linejoin="round" stroke-linecap="round"/>
<path d="M165.30,393.60 C166.20,390.40 168.70,388.90 171.20,392.20 S176.10,396.10 177.10,391.50" fill="none" stroke="#FF00FF" stroke-width="2.5" stroke-linejoin="round" stroke-linecap="round"/>
<path d="M182.20,384.90 L190.50,384.90 L184.90,398.20" fill="none" stroke="#FF00FF" stroke-width="2.35" stroke-linejoin="round" stroke-linecap="round"/>
<path d="M153.90,411.60 L160.60,411.60 L153.90,421.60 L160.60,421.60" fill="none" stroke="#FF0000" stroke-width="2.35" stroke-linejoin="round" stroke-linecap="round"/>
<path d="M165.30,416.20 C166.20,413.00 168.70,411.50 171.20,414.80 S176.10,418.70 177.10,414.10" fill="none" stroke="#FF0000" stroke-width="2.5" stroke-linejoin="round" stroke-linecap="round"/>
<text transform="translate(180.39,421.70) scale(1.0369,1)" font-size="21.75" fill="#FF0000" stroke="#FF0000" stroke-width="0.8" stroke-linejoin="round">8</text>
<path d="M536.50,37.70 L543.20,37.70 L536.50,47.70 L543.20,47.70" fill="none" stroke="#000" stroke-width="2.35" stroke-linejoin="round" stroke-linecap="round"/>
<path d="M547.90,42.30 C548.80,39.10 551.30,37.60 553.80,40.90 S558.70,44.80 559.70,40.20" fill="none" stroke="#000" stroke-width="2.5" stroke-linejoin="round" stroke-linecap="round"/>
<path d="M564.80,33.60 L573.10,33.60 L567.50,46.90" fill="none" stroke="#000" stroke-width="2.35" stroke-linejoin="round" stroke-linecap="round"/>
<path d="M588.50,37.70 L595.20,37.70 L588.50,47.70 L595.20,47.70" fill="none" stroke="#000" stroke-width="2.35" stroke-linejoin="round" stroke-linecap="round"/>
<text transform="translate(597.60,55.00) scale(1.0758,1)" font-size="13.93" font-weight="bold" fill="#000" stroke="#000" stroke-width="0.1" stroke-linejoin="round">850</text>
<line x1="625.00" y1="41.00" x2="638.00" y2="41.00" stroke="#000" stroke-width="2" stroke-linecap="butt"/>
<text transform="translate(640.30,47.70) scale(1.1636,1)" font-size="20.50" fill="#000" stroke="#000" stroke-width="0.5" stroke-linejoin="round">dropouts</text>
<text transform="translate(523.29,79.60) scale(0.8703,1)" font-size="21.75" fill="#000" stroke="#000" stroke-width="0.8" stroke-linejoin="round">H</text>
<text transform="translate(538.80,79.60) scale(0.9195,1)" font-size="21.75" fill="#000" stroke="#000" stroke-width="0.8" stroke-linejoin="round">U</text>
<text transform="translate(555.76,79.60) scale(0.8268,1)" font-size="21.75" fill="#000" stroke="#000" stroke-width="0.8" stroke-linejoin="round">D</text>
<text transform="translate(572.09,79.60) scale(0.7506,1)" font-size="21.75" fill="#000" stroke="#000" stroke-width="0.8" stroke-linejoin="round">F</text>
<text transform="translate(582.77,79.60) scale(0.9579,1)" font-size="21.75" fill="#000" stroke="#000" stroke-width="0.8" stroke-linejoin="round">0</text>
<text transform="translate(594.98,79.60) scale(0.8404,1)" font-size="21.75" fill="#000" stroke="#000" stroke-width="0.8" stroke-linejoin="round">9</text>
<path d="M536.50,267.20 L543.20,267.20 L536.50,277.20 L543.20,277.20" fill="none" stroke="#000" stroke-width="2.35" stroke-linejoin="round" stroke-linecap="round"/>
<path d="M547.90,271.80 C548.80,268.60 551.30,267.10 553.80,270.40 S558.70,274.30 559.70,269.70" fill="none" stroke="#000" stroke-width="2.5" stroke-linejoin="round" stroke-linecap="round"/>
<text transform="translate(563.04,277.30) scale(0.9782,1)" font-size="21.75" fill="#000" stroke="#000" stroke-width="0.8" stroke-linejoin="round">8</text>
<path d="M587.30,263.30 L592.40,269.50 L597.50,263.30 M592.40,269.50 L592.40,276.50" fill="none" stroke="#000" stroke-width="2.3" stroke-linejoin="round" stroke-linecap="round"/>
<text transform="translate(599.84,283.70) scale(0.9779,1)" font-size="13.79" font-weight="bold" fill="#000" stroke="#000" stroke-width="0.1" stroke-linejoin="round">105</text>
<line x1="625.00" y1="270.60" x2="638.00" y2="270.60" stroke="#000" stroke-width="2" stroke-linecap="butt"/>
<text transform="translate(641.10,276.70) scale(1.1559,1)" font-size="20.50" fill="#000" stroke="#000" stroke-width="0.5" stroke-linejoin="round">dropouts</text>
<text transform="translate(523.29,307.80) scale(0.8703,1)" font-size="21.75" fill="#000" stroke="#000" stroke-width="0.8" stroke-linejoin="round">H</text>
<text transform="translate(538.80,307.80) scale(0.9195,1)" font-size="21.75" fill="#000" stroke="#000" stroke-width="0.8" stroke-linejoin="round">U</text>
<text transform="translate(555.76,307.80) scale(0.8268,1)" font-size="21.75" fill="#000" stroke="#000" stroke-width="0.8" stroke-linejoin="round">D</text>
<text transform="translate(572.09,307.80) scale(0.7506,1)" font-size="21.75" fill="#000" stroke="#000" stroke-width="0.8" stroke-linejoin="round">F</text>
<text transform="translate(582.77,307.80) scale(0.9579,1)" font-size="21.75" fill="#000" stroke="#000" stroke-width="0.8" stroke-linejoin="round">0</text>
<text transform="translate(594.98,307.80) scale(0.8404,1)" font-size="21.75" fill="#000" stroke="#000" stroke-width="0.8" stroke-linejoin="round">9</text>
<text transform="translate(35.17,68.65) scale(1.1187,1)" font-size="22.00" fill="#000" stroke="#000" stroke-width="0.5" stroke-linejoin="round">0.15</text>
<text transform="translate(35.17,297.85) scale(1.1187,1)" font-size="22.00" fill="#000" stroke="#000" stroke-width="0.5" stroke-linejoin="round">0.15</text>
<text transform="translate(48.97,129.10) scale(1.0031,1)" font-size="22.00" fill="#000" stroke="#000" stroke-width="0.5" stroke-linejoin="round">0.1</text>
<text transform="translate(48.97,358.30) scale(1.0031,1)" font-size="22.00" fill="#000" stroke="#000" stroke-width="0.5" stroke-linejoin="round">0.1</text>
<text transform="translate(35.17,189.55) scale(1.1187,1)" font-size="22.00" fill="#000" stroke="#000" stroke-width="0.5" stroke-linejoin="round">0.05</text>
<text transform="translate(35.17,418.75) scale(1.1187,1)" font-size="22.00" fill="#000" stroke="#000" stroke-width="0.5" stroke-linejoin="round">0.05</text>
<text transform="translate(69.59,250.00) scale(1.0890,1)" font-size="22.00" fill="#000" stroke="#000" stroke-width="0.5" stroke-linejoin="round">0</text>
<text transform="translate(69.59,479.20) scale(1.0890,1)" font-size="22.00" fill="#000" stroke="#000" stroke-width="0.5" stroke-linejoin="round">0</text>
<path d="M471.10,68.60 Q473.50,67.50 474.70,64.90 L474.70,80.20" fill="none" stroke="#000" stroke-width="2.45" stroke-linejoin="round" stroke-linecap="butt"/>
<text transform="translate(447.29,164.90) scale(1.0895,1)" font-size="22.00" fill="#000" stroke="#000" stroke-width="0.5" stroke-linejoin="round">0.5</text>
<text transform="translate(467.19,249.90) scale(1.0890,1)" font-size="22.00" fill="#000" stroke="#000" stroke-width="0.5" stroke-linejoin="round">0</text>
<path d="M471.10,275.40 Q473.50,274.30 474.70,271.70 L474.70,287.00" fill="none" stroke="#000" stroke-width="2.45" stroke-linejoin="round" stroke-linecap="butt"/>
<text transform="translate(447.29,325.20) scale(1.0895,1)" font-size="22.00" fill="#000" stroke="#000" stroke-width="0.5" stroke-linejoin="round">0.8</text>
<text transform="translate(447.29,363.70) scale(1.0895,1)" font-size="22.00" fill="#000" stroke="#000" stroke-width="0.5" stroke-linejoin="round">0.6</text>
<text transform="translate(447.30,402.20) scale(1.0813,1)" font-size="22.00" fill="#000" stroke="#000" stroke-width="0.5" stroke-linejoin="round">0.4</text>
<text transform="translate(447.28,440.70) scale(1.0979,1)" font-size="22.00" fill="#000" stroke="#000" stroke-width="0.5" stroke-linejoin="round">0.2</text>
<text transform="translate(467.19,479.20) scale(1.0890,1)" font-size="22.00" fill="#000" stroke="#000" stroke-width="0.5" stroke-linejoin="round">0</text>
<text transform="translate(129.03,498.90) scale(1.1096,1)" font-size="22.00" fill="#000" stroke="#000" stroke-width="0.5" stroke-linejoin="round">25</text>
<text transform="translate(224.04,498.90) scale(1.1007,1)" font-size="22.00" fill="#000" stroke="#000" stroke-width="0.5" stroke-linejoin="round">26</text>
<text transform="translate(318.43,498.90) scale(1.1116,1)" font-size="22.00" fill="#000" stroke="#000" stroke-width="0.5" stroke-linejoin="round">27</text>
<text transform="translate(413.02,498.90) scale(1.1185,1)" font-size="22.00" fill="#000" stroke="#000" stroke-width="0.5" stroke-linejoin="round">28</text>
<text transform="translate(511.03,498.90) scale(1.1096,1)" font-size="22.00" fill="#000" stroke="#000" stroke-width="0.5" stroke-linejoin="round">25</text>
<text transform="translate(575.42,498.90) scale(1.1185,1)" font-size="22.00" fill="#000" stroke="#000" stroke-width="0.5" stroke-linejoin="round">26</text>
<text transform="translate(639.06,498.90) scale(1.0846,1)" font-size="22.00" fill="#000" stroke="#000" stroke-width="0.5" stroke-linejoin="round">27</text>
<text transform="translate(702.00,498.90) scale(1.1364,1)" font-size="22.00" fill="#000" stroke="#000" stroke-width="0.5" stroke-linejoin="round">28</text>
<text transform="translate(766.04,498.90) scale(1.0972,1)" font-size="22.00" fill="#000" stroke="#000" stroke-width="0.5" stroke-linejoin="round">29</text>
<text transform="translate(233.53,525.60) scale(1.0347,1)" font-size="20.51" fill="#000" stroke="#000" stroke-width="0.5" stroke-linejoin="round">J</text>
<text transform="translate(246.33,531.10) scale(1.1244,1)" font-size="12.21" font-weight="bold" fill="#000" stroke="#000" stroke-width="0.1" stroke-linejoin="round">125</text>
<text transform="translate(268.60,531.10) scale(1.2500,1)" font-size="12.00" font-weight="bold" fill="#000" stroke="#000" stroke-width="0.1" stroke-linejoin="round">,</text>
<text transform="translate(272.07,531.20) scale(0.9401,1)" font-size="11.96" font-weight="bold" fill="#000" stroke="#000" stroke-width="0.1" stroke-linejoin="round">AB</text>
<text transform="translate(629.21,525.00) scale(1.0457,1)" font-size="19.64" fill="#000" stroke="#000" stroke-width="0.5" stroke-linejoin="round">H</text>
<text transform="translate(645.70,531.10) scale(1.1666,1)" font-size="12.21" font-weight="bold" fill="#000" stroke="#000" stroke-width="0.1" stroke-linejoin="round">160</text>
<text transform="translate(668.60,531.10) scale(1.2500,1)" font-size="12.00" font-weight="bold" fill="#000" stroke="#000" stroke-width="0.1" stroke-linejoin="round">,</text>
<text transform="translate(672.07,531.20) scale(0.9401,1)" font-size="11.96" font-weight="bold" fill="#000" stroke="#000" stroke-width="0.1" stroke-linejoin="round">AB</text>
<text transform="translate(21.80,385.55) rotate(-90) translate(-0.94,0) scale(0.9074,1)" font-size="23.00" fill="#000" stroke="#000" stroke-width="0.5" stroke-linejoin="round">S</text>
<text transform="translate(21.80,373.35) rotate(-90) translate(-1.18,0) scale(0.7877,1)" font-size="23.00" fill="#000" stroke="#000" stroke-width="0.5" stroke-linejoin="round">u</text>
<text transform="translate(21.80,362.35) rotate(-90) translate(-1.59,0) scale(1.0609,1)" font-size="23.00" fill="#000" stroke="#000" stroke-width="0.5" stroke-linejoin="round">r</text>
<text transform="translate(21.80,353.25) rotate(-90) translate(-0.43,0) scale(1.2469,1)" font-size="23.00" fill="#000" stroke="#000" stroke-width="0.5" stroke-linejoin="round">f</text>
<text transform="translate(21.80,343.85) rotate(-90) translate(-0.82,0) scale(0.8864,1)" font-size="23.00" fill="#000" stroke="#000" stroke-width="0.5" stroke-linejoin="round">a</text>
<text transform="translate(21.80,329.95) rotate(-90) translate(-0.89,0) scale(0.9695,1)" font-size="23.00" fill="#000" stroke="#000" stroke-width="0.5" stroke-linejoin="round">c</text>
<text transform="translate(21.80,317.55) rotate(-90) translate(-0.87,0) scale(0.9436,1)" font-size="23.00" fill="#000" stroke="#000" stroke-width="0.5" stroke-linejoin="round">e</text>
<text transform="translate(21.80,297.65) rotate(-90) translate(-1.93,0) scale(1.0472,1)" font-size="23.00" fill="#000" stroke="#000" stroke-width="0.5" stroke-linejoin="round">Density</text>
<text transform="translate(21.10,207.75) rotate(-90) translate(-1.43,0) scale(0.9509,1)" font-size="25.00" fill="#000" stroke="#000" stroke-width="0.5" stroke-linejoin="round">(</text>
<text transform="translate(21.80,198.15) rotate(-90) translate(-0.97,0) scale(1.0528,1)" font-size="23.00" fill="#000" stroke="#000" stroke-width="0.5" stroke-linejoin="round">arcmin</text>
<line x1="10.60" y1="125.20" x2="10.60" y2="118.60" stroke="#000" stroke-width="2" stroke-linecap="butt"/>
<text transform="translate(16.00,116.80) rotate(-90) translate(-0.59,0) scale(1.0166,1)" font-size="16.60" font-weight="bold" fill="#000" stroke="#000" stroke-width="0.2" stroke-linejoin="round">2</text>
<text transform="translate(21.10,106.95) rotate(-90) translate(-0.13,0) scale(1.0113,1)" font-size="25.00" fill="#000" stroke="#000" stroke-width="0.5" stroke-linejoin="round">)</text>
</svg>
</body></html>
